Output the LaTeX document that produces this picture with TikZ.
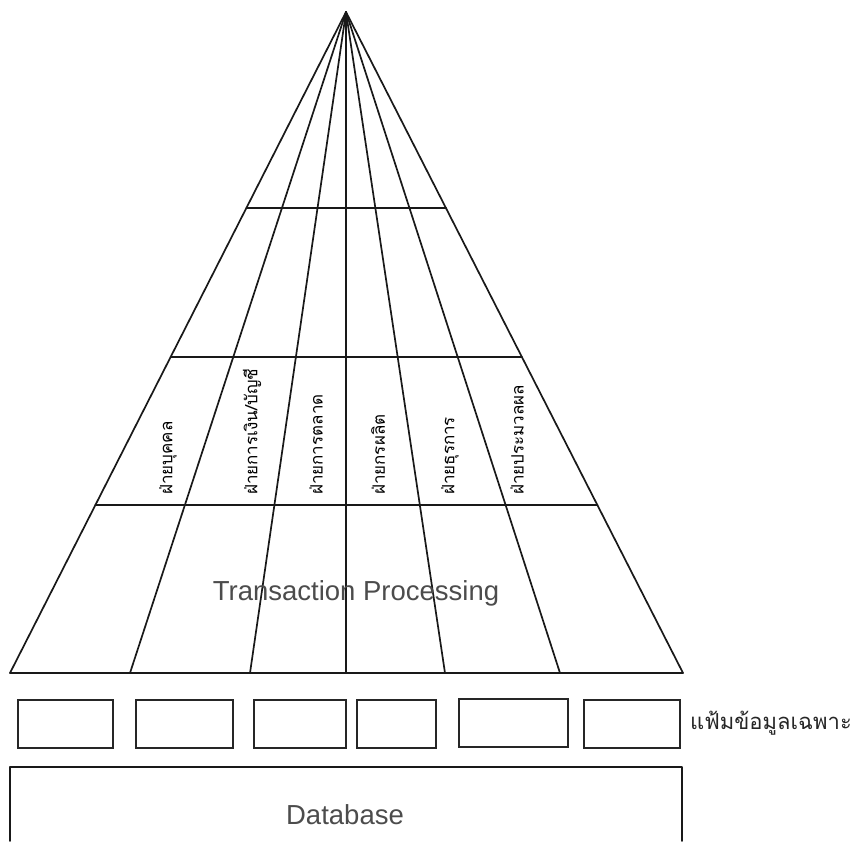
\documentclass[tikz,border=0pt]{standalone}
\usepackage{fontspec}
\setmainfont{Liberation Sans}
\newfontfamily\thaifont[Script=Thai]{Loma}
\usetikzlibrary{calc}
\begin{document}
\begin{tikzpicture}[x=1pt,y=-1pt,
  rule/.style={line width=1.7pt, black!90, line cap=round, line join=round},
  dept/.style={rotate=90, anchor=west, inner sep=0pt,
    font=\thaifont\fontsize{17}{17}\selectfont, text=black},
  filebox/.style={draw, line width=1.7pt, black!85, inner sep=0pt,
    minimum height=48pt},
  caption/.style={font=\fontsize{27.5}{27.5}\selectfont, text=black!70},
  sidenote/.style={font=\thaifont\fontsize{22}{22}\selectfont, text=black!85}]
\useasboundingbox (0,0) rectangle (851,841);

% pyramid: rays from the apex to the base
\coordinate (apex) at (346,12);
\foreach \n/\x in {0/10,1/130,2/250,3/346,4/445,5/560,6/683} {
  \coordinate (b\n) at (\x,673);
  \draw[rule] (apex) -- (b\n);
}
\draw[rule] (b0) -- (b6);
% cross levels of the pyramid
\foreach \t in {0.2965,0.522,0.746}
  \draw[rule] ($(apex)!\t!(b0)$) -- ($(apex)!\t!(b6)$);

% department labels
\node[dept] (d1) at (168,495) {ฝ่ายบุคคล};
\node[dept] (d2) at (252,495) {ฝ่ายการเงิน/บัญชี};
\node[dept] (d3) at (316,495) {ฝ่ายการตลาด};
\node[dept] (d4) at (378,495) {ฝ่ายกรผลิต};
\node[dept] (d5) at (450,495) {ฝ่ายธุรการ};
\node[dept] (d6) at (517,495) {ฝ่ายประมวลผล};

\node[caption] (tp) at (356,593) {Transaction Processing};

% dedicated files
\node[filebox, minimum width=95pt] (f1) at (65.5,724) {};
\node[filebox, minimum width=97pt] (f2) at (184.5,724) {};
\node[filebox, minimum width=92pt] (f3) at (300,724) {};
\node[filebox, minimum width=79pt] (f4) at (396.5,724) {};
\node[filebox, minimum width=109pt] (f5) at (513.5,723) {};
\node[filebox, minimum width=96pt] (f6) at (632,724) {};
\node[sidenote] (files) at (771,723) {แฟ้มข้อมูลเฉพาะ};

% database block (open at the bottom)
\coordinate (dbl) at (10,841);
\coordinate (dbr) at (682,841);
\draw[rule] (dbl) |- (682,767) -- (dbr);
\node[caption] (db) at (345,815) {Database};
\end{tikzpicture}
\end{document}
